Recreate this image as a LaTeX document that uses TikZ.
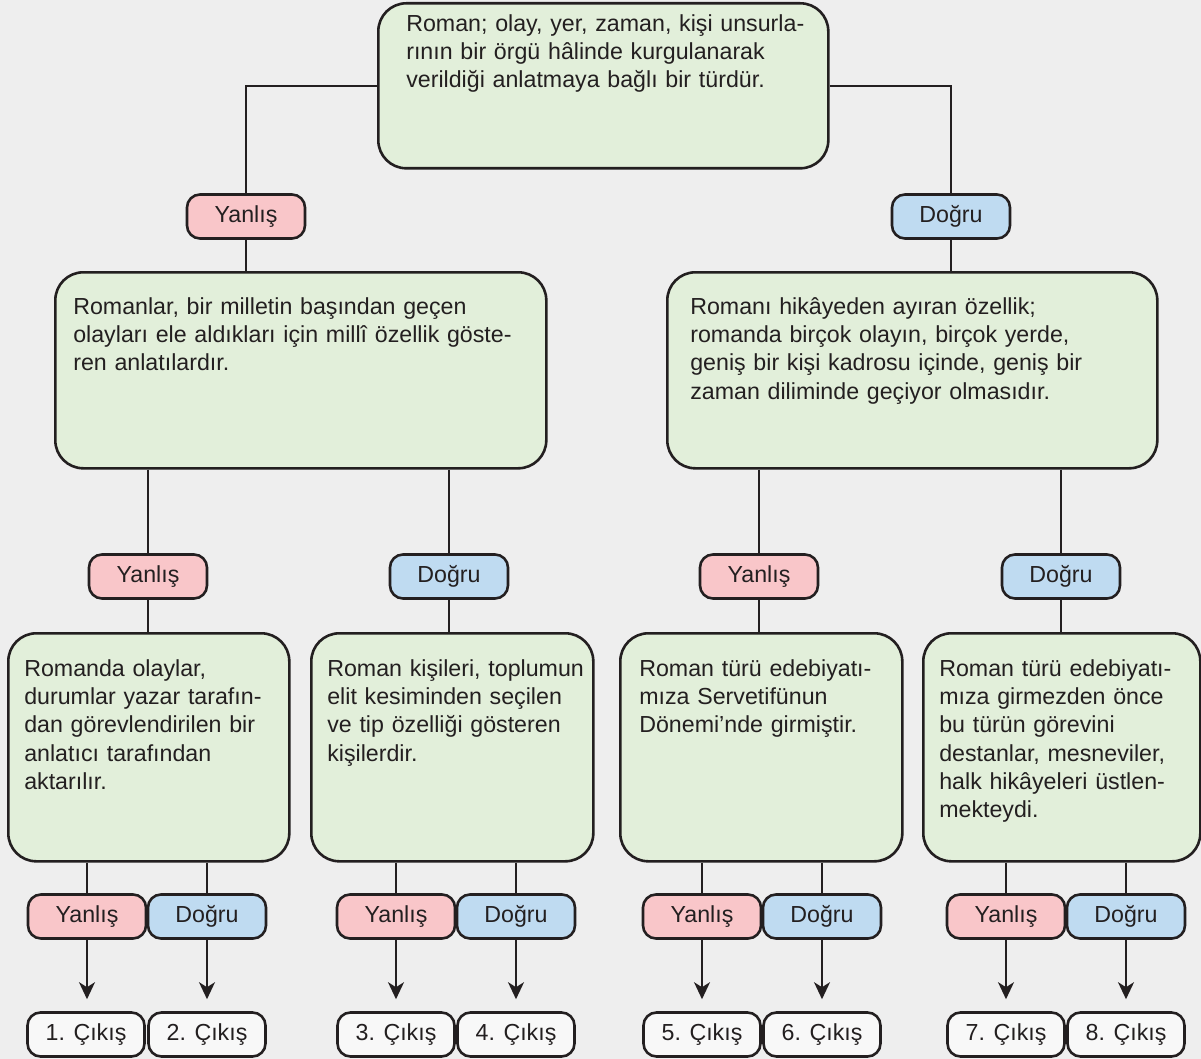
\documentclass[tikz,border=0pt]{standalone}
\usepackage{fontspec}
\setmainfont{Liberation Sans}
\usetikzlibrary{arrows.meta}

\definecolor{ink}{RGB}{35,31,32}
\definecolor{bggray}{RGB}{238,238,238}
\definecolor{cardfill}{RGB}{226,239,218}
\definecolor{nofill}{RGB}{249,198,201}
\definecolor{yesfill}{RGB}{191,219,241}
\definecolor{exitfill}{RGB}{248,248,248}

\newcommand{\txt}{\fontsize{23.2pt}{28.3pt}\selectfont}

\tikzset{
  card/.style n args={3}{draw=ink, line width=2.6pt, fill=cardfill, rounded corners=28pt,
    anchor=north west, align=left, inner ysep=0pt, font=\txt, text=ink,
    text width=#1, text height=#2, text depth=#3},
  tag/.style={draw=ink, line width=2.6pt, rounded corners=13pt, font=\txt, text=ink,
    minimum width=118pt, minimum height=44pt, inner sep=0pt},
  no/.style={tag, fill=nofill},
  yes/.style={tag, fill=yesfill},
  exit/.style={tag, fill=exitfill, minimum width=117pt},
  wire/.style={draw=ink, line width=2pt},
  arrow/.style={wire, -{Stealth[length=17pt,width=16pt,inset=5pt]}, shorten >=12pt}
}

\begin{document}
\begin{tikzpicture}[x=1pt,y=-1pt]
   \fill[bggray] (0,0) rectangle (1201,1059);
   \useasboundingbox (0,0) rectangle (1201,1059);

   % first question
   \node[card={394pt}{28pt}{137pt}, inner xsep=28pt] (top) at (377,2)
     {\mbox{Roman; olay, yer, zaman, kişi unsurla-}\\rının bir örgü hâlinde kurgulanarak\\verildiği anlatmaya bağlı bir türdür.};
   \node[no]  (y0) at (246,216.5) {Yanlış};
   \node[yes] (d0) at (951,216.5) {Doğru};
   \draw[wire] (top.west) -| (y0.north);
   \draw[wire] (top.east) -| (d0.north);

   % second level
   \node[card={455pt}{42pt}{154pt}, inner xsep=18pt] (ml) at (54,271)
     {Romanlar, bir milletin başından geçen\\olayları ele aldıkları için millî özellik göste-\\ren anlatılardır.};
   \node[card={444pt}{42pt}{154pt}, inner xsep=23pt] (mr) at (666,271)
     {Romanı hikâyeden ayıran özellik;\\romanda birçok olayın, birçok yerde,\\geniş bir kişi kadrosu içinde, geniş bir\\zaman diliminde geçiyor olmasıdır.};
   \draw[wire] (y0.south) -- (y0.south |- ml.north);
   \draw[wire] (d0.south) -- (d0.south |- mr.north);

   \node[no]  (y1) at (148,576.5)  {Yanlış};
   \node[yes] (d1) at (449,576.5)  {Doğru};
   \node[no]  (y2) at (759,576.5)  {Yanlış};
   \node[yes] (d2) at (1061,576.5) {Doğru};
   \draw[wire] (y1.north |- ml.south) -- (y1.north);
   \draw[wire] (d1.north |- ml.south) -- (d1.north);
   \draw[wire] (y2.north |- mr.south) -- (y2.north);
   \draw[wire] (d2.north |- mr.south) -- (d2.north);

   % third level
   \node[card={249pt}{43pt}{185pt}, inner xsep=16pt] (b1) at (7,632)
     {Romanda olaylar,\\durumlar yazar tarafın-\\dan görevlendirilen bir\\anlatıcı tarafından\\aktarılır.};
   \node[card={250pt}{43pt}{185pt}, inner xsep=16pt] (b2) at (310,632)
     {\mbox{Roman kişileri, toplumun}\\elit kesiminden seçilen\\ve tip özelliği gösteren\\kişilerdir.};
   \node[card={244pt}{43pt}{185pt}, inner xsep=19pt] (b3) at (619,632)
     {Roman türü edebiyatı-\\mıza Servetifünun\\Dönemi’nde girmiştir.};
   \node[card={245pt}{43pt}{185pt}, inner xsep=16pt] (b4) at (922,632)
     {Roman türü edebiyatı-\\mıza girmezden önce\\bu türün görevini\\destanlar, mesneviler,\\halk hikâyeleri üstlen-\\mekteydi.};
   \draw[wire] (y1.south) -- (y1.south |- b1.north);
   \draw[wire] (d1.south) -- (d1.south |- b2.north);
   \draw[wire] (y2.south) -- (y2.south |- b3.north);
   \draw[wire] (d2.south) -- (d2.south |- b4.north);

   % answers
   \node[no]  (y11) at (87,916.5)   {Yanlış};
   \node[yes] (d11) at (207,916.5)  {Doğru};
   \node[no]  (y12) at (396,916.5)  {Yanlış};
   \node[yes] (d12) at (516,916.5)  {Doğru};
   \node[no]  (y21) at (702,916.5)  {Yanlış};
   \node[yes] (d21) at (822,916.5)  {Doğru};
   \node[no]  (y22) at (1006,916.5) {Yanlış};
   \node[yes] (d22) at (1126,916.5) {Doğru};
   \draw[wire] (y11.north |- b1.south) -- (y11.north);
   \draw[wire] (d11.north |- b1.south) -- (d11.north);
   \draw[wire] (y12.north |- b2.south) -- (y12.north);
   \draw[wire] (d12.north |- b2.south) -- (d12.north);
   \draw[wire] (y21.north |- b3.south) -- (y21.north);
   \draw[wire] (d21.north |- b3.south) -- (d21.north);
   \draw[wire] (y22.north |- b4.south) -- (y22.north);
   \draw[wire] (d22.north |- b4.south) -- (d22.north);

   % exits
   \node[exit] (x1) at (86,1034.5)   {1. Çıkış};
   \node[exit] (x2) at (207,1034.5)  {2. Çıkış};
   \node[exit] (x3) at (396,1034.5)  {3. Çıkış};
   \node[exit] (x4) at (516,1034.5)  {4. Çıkış};
   \node[exit] (x5) at (702,1034.5)  {5. Çıkış};
   \node[exit] (x6) at (822,1034.5)  {6. Çıkış};
   \node[exit] (x7) at (1006,1034.5) {7. Çıkış};
   \node[exit] (x8) at (1126,1034.5) {8. Çıkış};
   \draw[arrow] (y11.south) -- (y11.south |- x1.north);
   \draw[arrow] (d11.south) -- (d11.south |- x2.north);
   \draw[arrow] (y12.south) -- (y12.south |- x3.north);
   \draw[arrow] (d12.south) -- (d12.south |- x4.north);
   \draw[arrow] (y21.south) -- (y21.south |- x5.north);
   \draw[arrow] (d21.south) -- (d21.south |- x6.north);
   \draw[arrow] (y22.south) -- (y22.south |- x7.north);
   \draw[arrow] (d22.south) -- (d22.south |- x8.north);
\end{tikzpicture}
\end{document}
